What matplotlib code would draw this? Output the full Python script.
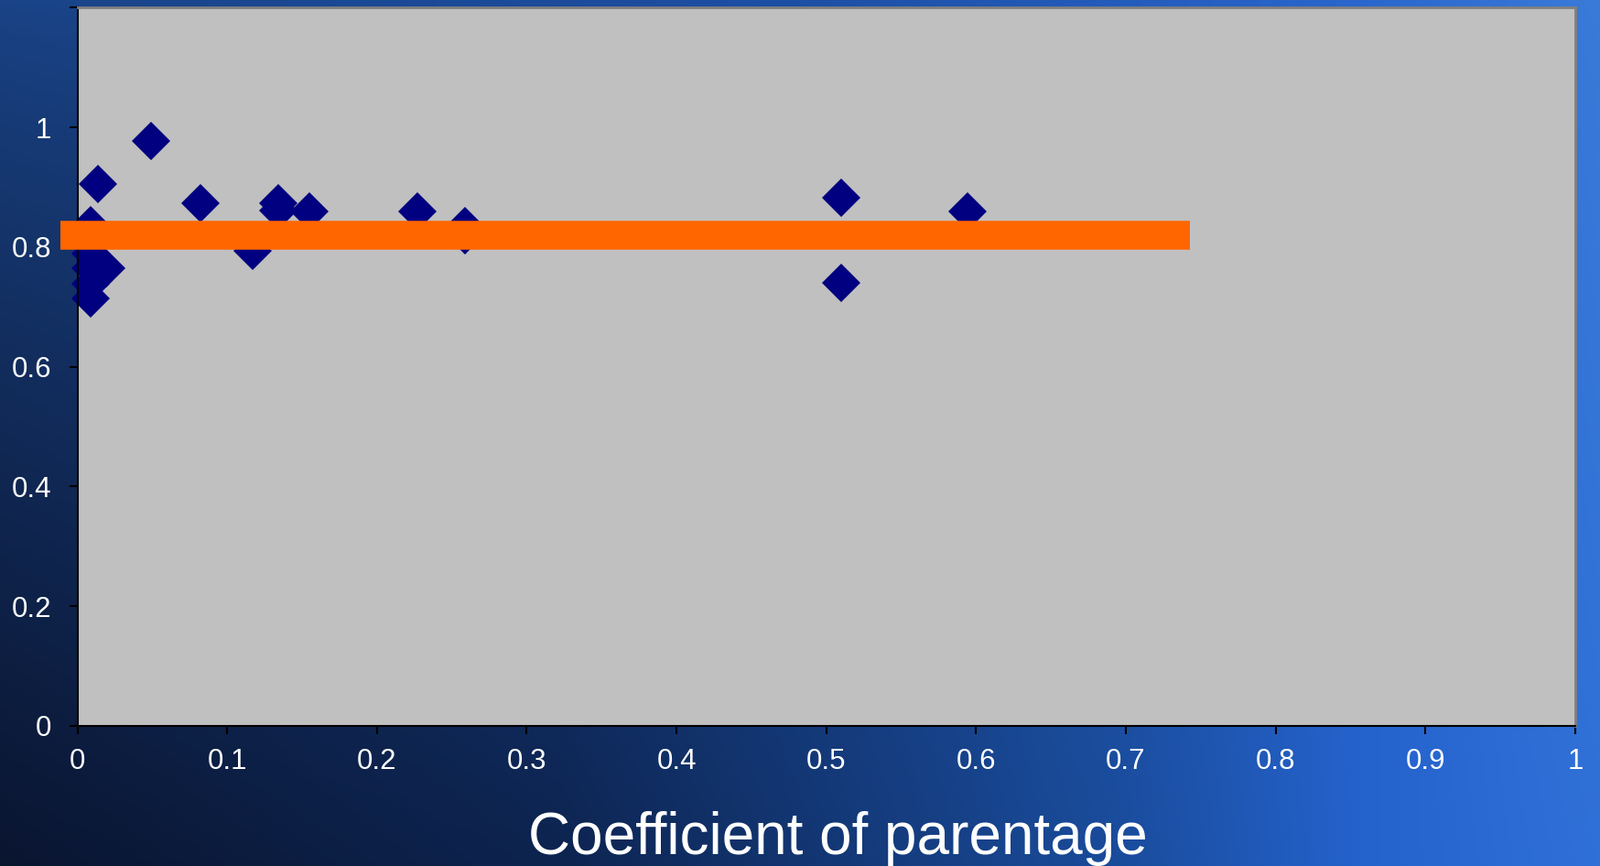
import numpy as np
import matplotlib.pyplot as plt
from matplotlib.colors import to_rgb

plt.rcParams['font.family'] = ['Liberation Sans', 'DejaVu Sans']

# --- data ---
cop = [0.049, 0.014, 0.082, 0.134, 0.134, 0.155, 0.117, 0.227, 0.259, 0.259,
       0.510, 0.510, 0.594, 0.009, 0.009, 0.009, 0.009, 0.009, 0.019]
similarity = [0.978, 0.906, 0.873, 0.873, 0.861, 0.859, 0.794, 0.859, 0.835, 0.820,
              0.883, 0.741, 0.859, 0.836, 0.790, 0.765, 0.739, 0.714, 0.765]

mean_x = [-0.011, 0.743]
mean_y = [0.82, 0.82]

x_ticks = [0, 0.1, 0.2, 0.3, 0.4, 0.5, 0.6, 0.7, 0.8, 0.9, 1.0]
x_labels = ['0', '0.1', '0.2', '0.3', '0.4', '0.5', '0.6', '0.7', '0.8', '0.9', '1']
y_ticks = [0, 0.2, 0.4, 0.6, 0.8, 1.0, 1.2]
y_labels = ['0', '0.2', '0.4', '0.6', '0.8', '1', '']

# --- background gradient (slide style) ---
W, H = 1749, 946
fig = plt.figure(figsize=(W / 100, H / 100), dpi=100)

def ramp(stops, n):
    pos = [s[0] for s in stops]
    cols = np.array([to_rgb(s[1]) for s in stops])
    t = np.linspace(0, 1, n)
    return np.stack([np.interp(t, pos, cols[:, k]) for k in range(3)], axis=1)

top_row = ramp([(0, '#1a4488'), (0.5, '#1d4fa4'), (0.85, '#2a66cc'), (1, '#3a7bd8')], 400)
bot_row = ramp([(0, '#0a1530'), (0.35, '#0d2450'), (0.7, '#1a4c9c'), (0.85, '#2462cc'), (1, '#2f70d8')], 400)
v = np.linspace(0, 1, 200)[:, None, None] ** 0.8
grad = top_row[None, :, :] * (1 - v) + bot_row[None, :, :] * v

bg = fig.add_axes([0, 0, 1, 1], zorder=-1)
bg.imshow(grad, aspect='auto', extent=[0, 1, 0, 1], origin='upper')
bg.axis('off')

# --- main chart ---
ax = fig.add_axes([84.5 / W, 1 - 793 / H, (1721 - 84.5) / W, (793 - 8.5) / H])
ax.set_facecolor('#c0c0c0')

ax.plot(cop, similarity, linestyle='none', marker='D', ms=21.7, mew=0,
        color='#000080', zorder=2, clip_on=False)
ax.plot(mean_x, mean_y, color='#ff6600', lw=22.7, solid_capstyle='butt',
        zorder=3, clip_on=False)

ax.set_xlim(0, 1)
ax.set_ylim(0, 1.2)
ax.set_xticks(x_ticks)
ax.set_xticklabels(x_labels)
ax.set_yticks(y_ticks)
ax.set_yticklabels(y_labels)
ax.tick_params(direction='out', length=6.5, width=1.5, color='black',
               labelcolor='white', labelsize=22.5)
ax.tick_params(axis='x', pad=11)
ax.tick_params(axis='y', pad=14)

for side in ['left', 'bottom']:
    ax.spines[side].set_color('black')
    ax.spines[side].set_linewidth(1.5)
for side in ['top', 'right']:
    ax.spines[side].set_color('#808080')
    ax.spines[side].set_linewidth(2)

fig.text(915 / W, 1 - 932.5 / H, 'Coefficient of parentage', fontsize=46,
         color='white', ha='center', va='baseline')

fig.savefig('out.png', dpi=100)
